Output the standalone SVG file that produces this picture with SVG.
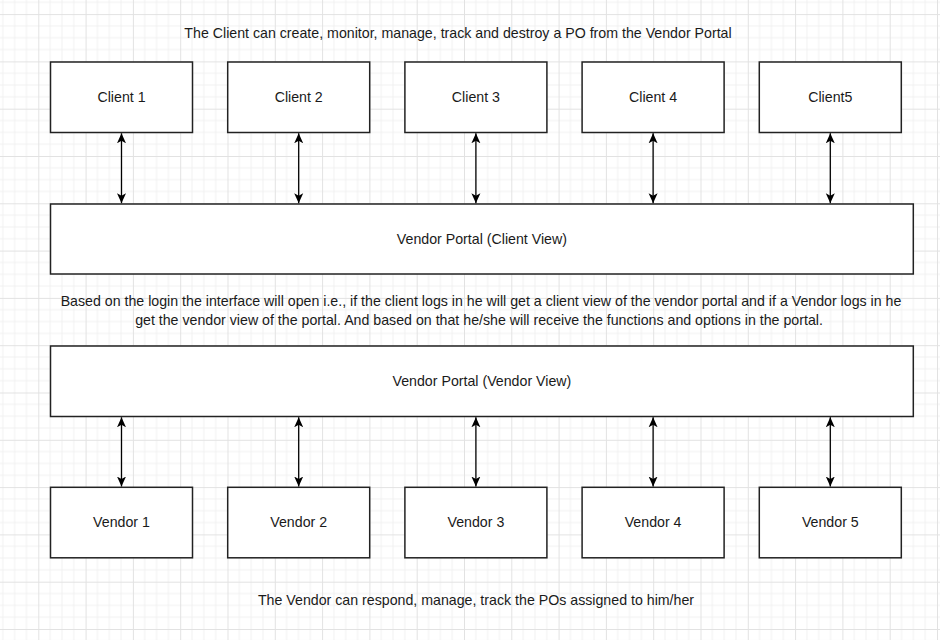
<svg xmlns="http://www.w3.org/2000/svg" width="940" height="640" viewBox="0 0 940 640">
<defs>
<pattern id="grid" patternUnits="userSpaceOnUse" x="38.3" y="14.1" width="47.3" height="47.3">
<path d="M11.83,0V47.3M23.65,0V47.3M35.48,0V47.3M0,11.83H47.3M0,23.65H47.3M0,35.48H47.3" stroke="#f1f1f1" stroke-width="1" fill="none"/>
<path d="M0.5,0V47.3M0,0.5H47.3" stroke="#e2e2e2" stroke-width="1" fill="none"/>
</pattern>
<marker id="arr" markerUnits="userSpaceOnUse" viewBox="0 0 10 10" refX="10" refY="5" markerWidth="10" markerHeight="10" orient="auto-start-reverse">
<path d="M0,0.5L10,5L0,9.5L2.5,5Z" fill="#000"/>
</marker>
</defs>
<style>
.box{fill:#fff;stroke:#222;stroke-width:1.5}
.lbl{font-family:"Liberation Sans",Arial,sans-serif;font-size:14.2px;fill:#1a1a1a;text-anchor:middle}
.con{stroke:#000;stroke-width:1.3;fill:none;marker-start:url(#arr);marker-end:url(#arr)}
</style>
<rect width="940" height="640" fill="#fff"/>
<rect width="940" height="640" fill="url(#grid)"/>

<text class="lbl" x="458" y="38">The Client can create, monitor, manage, track and destroy a PO from the Vendor Portal</text>

<g id="client1"><rect class="box" x="50.5" y="62" width="142" height="70.5"/><text class="lbl" x="121.5" y="102">Client 1</text></g>
<g id="client2"><rect class="box" x="227.7" y="62" width="142" height="70.5"/><text class="lbl" x="298.7" y="102">Client 2</text></g>
<g id="client3"><rect class="box" x="404.9" y="62" width="142" height="70.5"/><text class="lbl" x="475.9" y="102">Client 3</text></g>
<g id="client4"><rect class="box" x="582.1" y="62" width="142" height="70.5"/><text class="lbl" x="653.1" y="102">Client 4</text></g>
<g id="client5"><rect class="box" x="759.3" y="62" width="142" height="70.5"/><text class="lbl" x="830.3" y="102">Client5</text></g>

<g id="portal-client"><rect class="box" x="50.5" y="204" width="862.8" height="70"/><text class="lbl" x="481.9" y="244">Vendor Portal (Client View)</text></g>

<text class="lbl" x="481" y="306">Based on the login the interface will open i.e., if the client logs in he will get a client view of the vendor portal and if a Vendor logs in he</text>
<text class="lbl" x="479" y="325">get the vendor view of the portal. And based on that he/she will receive the functions and options in the portal.</text>

<g id="portal-vendor"><rect class="box" x="50.5" y="346" width="862.8" height="70.5"/><text class="lbl" x="481.9" y="386">Vendor Portal (Vendor View)</text></g>

<g id="vendor1"><rect class="box" x="50.5" y="487.3" width="142" height="70.5"/><text class="lbl" x="121.5" y="527">Vendor 1</text></g>
<g id="vendor2"><rect class="box" x="227.7" y="487.3" width="142" height="70.5"/><text class="lbl" x="298.7" y="527">Vendor 2</text></g>
<g id="vendor3"><rect class="box" x="404.9" y="487.3" width="142" height="70.5"/><text class="lbl" x="475.9" y="527">Vendor 3</text></g>
<g id="vendor4"><rect class="box" x="582.1" y="487.3" width="142" height="70.5"/><text class="lbl" x="653.1" y="527">Vendor 4</text></g>
<g id="vendor5"><rect class="box" x="759.3" y="487.3" width="142" height="70.5"/><text class="lbl" x="830.3" y="527">Vendor 5</text></g>

<text class="lbl" x="476" y="605">The Vendor can respond, manage, track the POs assigned to him/her</text>

<g id="connectors">
<path class="con" d="M121.5,133.3V203.2"/>
<path class="con" d="M298.7,133.3V203.2"/>
<path class="con" d="M475.9,133.3V203.2"/>
<path class="con" d="M653.1,133.3V203.2"/>
<path class="con" d="M830.3,133.3V203.2"/>
<path class="con" d="M121.5,417.3V486.5"/>
<path class="con" d="M298.7,417.3V486.5"/>
<path class="con" d="M475.9,417.3V486.5"/>
<path class="con" d="M653.1,417.3V486.5"/>
<path class="con" d="M830.3,417.3V486.5"/>
</g>
</svg>
